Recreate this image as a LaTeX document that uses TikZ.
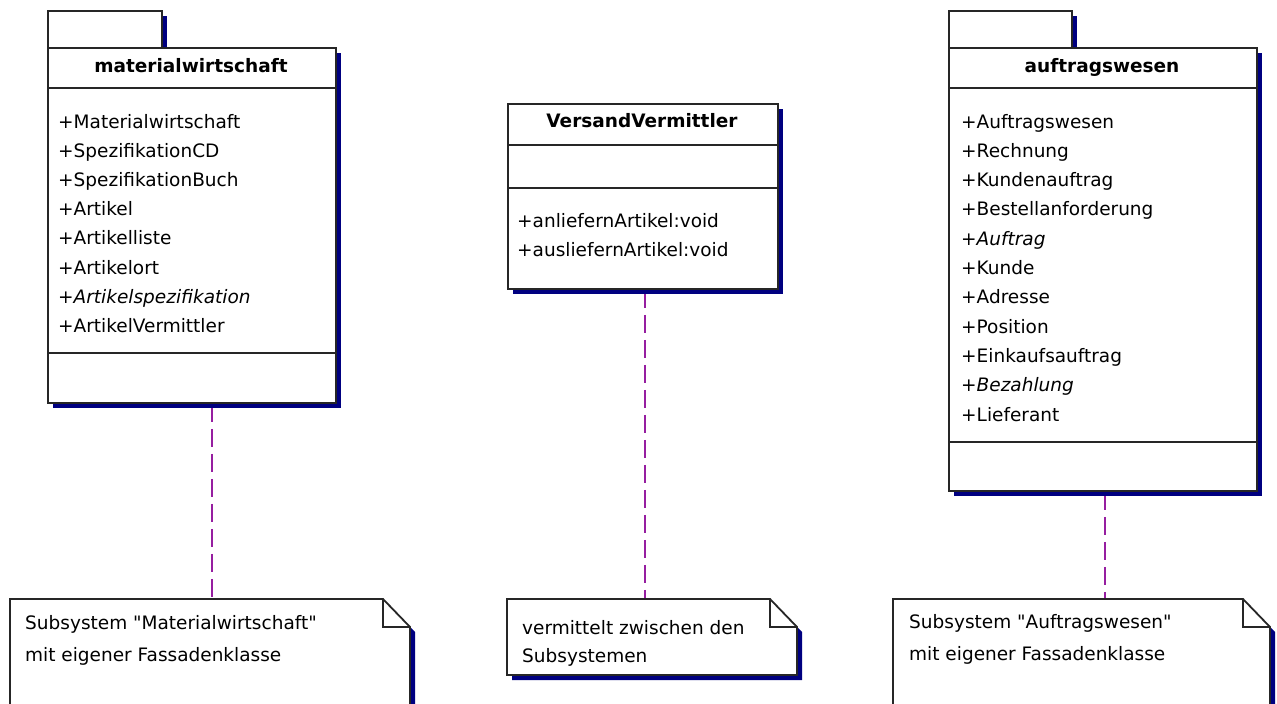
\documentclass[tikz,border=0pt]{standalone}
\usepackage{fontspec}
\setmainfont{DejaVu Sans}
\usetikzlibrary{shadows,calc,backgrounds}
\definecolor{shadowblue}{RGB}{0,0,128}
\definecolor{deplink}{RGB}{150,30,160}

% note with a folded top-right corner: name, left, top, right, bottom
\newcommand\foldnote[5]{%
  \fill[shadowblue] (#2+5,#3+5) -- (#4-27+5,#3+5) -- (#4+5,#3+28+5) -- (#4+5,#5+5) -- (#2+5,#5+5) -- cycle;
  \draw[outline,fill=white] (#2,#3) -- (#4-27,#3) -- (#4,#3+28) -- (#4,#5) -- (#2,#5) -- cycle;
  \draw[outline] (#4-27,#3) -- (#4-27,#3+28) -- (#4,#3+28);
  \node[inner sep=0pt,minimum width={(#4-#2)*1pt},minimum height={(#5-#3)*1pt},anchor=north west] (#1) at (#2,#3) {};
}

\begin{document}
\begin{tikzpicture}[x=1pt,y=-1pt,
  every node/.style={font=\fontsize{18.5pt}{22pt}\selectfont},
  outline/.style={draw=black!85,line width=1.8pt},
  umlbox/.style={outline,fill=white,rectangle,inner sep=0pt,anchor=north west,
     general shadow={fill=shadowblue,shadow xshift=5pt,shadow yshift=-5pt}},
  boxtitle/.style={anchor=base,inner sep=0pt,font=\fontsize{18.5pt}{22pt}\selectfont\bfseries},
  member/.style={anchor=base west,inner sep=0pt},
  dep/.style={draw=deplink,line width=1.6pt,dash pattern=on 18pt off 7pt},
]
\clip (0,0) rectangle (1277,704);
\begin{pgfonlayer}{background}
  \fill[white] (0,0) rectangle (1277,704);
\end{pgfonlayer}

% package materialwirtschaft
\node[umlbox,minimum width=114pt,minimum height=37pt] (tabA) at (47,10) {};
\node[umlbox,minimum width=288pt,minimum height=355pt] (pkgA) at (47,47) {};
\draw[outline] ($(pkgA.north west)+(0,41)$) -- ($(pkgA.north east)+(0,41)$);
\draw[outline] ($(pkgA.north west)+(0,306)$) -- ($(pkgA.north east)+(0,306)$);
\node[boxtitle] (titleA) at (191,72) {materialwirtschaft};
\foreach \t [count=\i from 0] in {+Materialwirtschaft,+SpezifikationCD,+SpezifikationBuch,
    +Artikel,+Artikelliste,+Artikelort,{+\textit{Artikelspezifikation}},+ArtikelVermittler}
  \node[member] (memA\i) at (58,128+29.2*\i) {\t};

% class VersandVermittler
\node[umlbox,minimum width=270pt,minimum height=185pt] (clsB) at (507,103) {};
\draw[outline] ($(clsB.north west)+(0,42)$) -- ($(clsB.north east)+(0,42)$);
\draw[outline] ($(clsB.north west)+(0,85)$) -- ($(clsB.north east)+(0,85)$);
\node[boxtitle] (titleB) at (642,127) {VersandVermittler};
\node[member] (opB0) at (517,227) {+anliefernArtikel:void};
\node[member] (opB1) at (517,256) {+ausliefernArtikel:void};

% package auftragswesen
\node[umlbox,minimum width=123pt,minimum height=37pt] (tabC) at (948,10) {};
\node[umlbox,minimum width=308pt,minimum height=443pt] (pkgC) at (948,47) {};
\draw[outline] ($(pkgC.north west)+(0,41)$) -- ($(pkgC.north east)+(0,41)$);
\draw[outline] ($(pkgC.north west)+(0,395)$) -- ($(pkgC.north east)+(0,395)$);
\node[boxtitle] (titleC) at (1102,72) {auftragswesen};
\foreach \t [count=\i from 0] in {+Auftragswesen,+Rechnung,+Kundenauftrag,+Bestellanforderung,
    {+\textit{Auftrag}},+Kunde,+Adresse,+Position,+Einkaufsauftrag,{+\textit{Bezahlung}},+Lieferant}
  \node[member] (memC\i) at (961,128+29.3*\i) {\t};

% notes
\foldnote{noteA}{10}{599}{410}{740}
\node[member] (txtA1) at (25,629) {Subsystem \textquotedbl Materialwirtschaft\textquotedbl};
\node[member] (txtA2) at (25,661) {mit eigener Fassadenklasse};

\foldnote{noteB}{507}{599}{797}{675}
\node[member] (txtB1) at (522,634) {vermittelt zwischen den};
\node[member] (txtB2) at (522,662) {Subsystemen};

\foldnote{noteC}{893}{599}{1270}{740}
\node[member] (txtC1) at (909,628) {Subsystem \textquotedbl Auftragswesen\textquotedbl};
\node[member] (txtC2) at (909,660) {mit eigener Fassadenklasse};

% note attachments
\coordinate (depA) at (212,0);
\coordinate (depB) at (645,0);
\coordinate (depC) at (1105,0);
\begin{pgfonlayer}{background}
  \draw[dep] (pkgA.south -| depA) -- (noteA.north -| depA);
  \draw[dep] (clsB.south -| depB) -- (noteB.north -| depB);
  \draw[dep] (pkgC.south -| depC) -- (noteC.north -| depC);
\end{pgfonlayer}
\end{tikzpicture}
\end{document}
